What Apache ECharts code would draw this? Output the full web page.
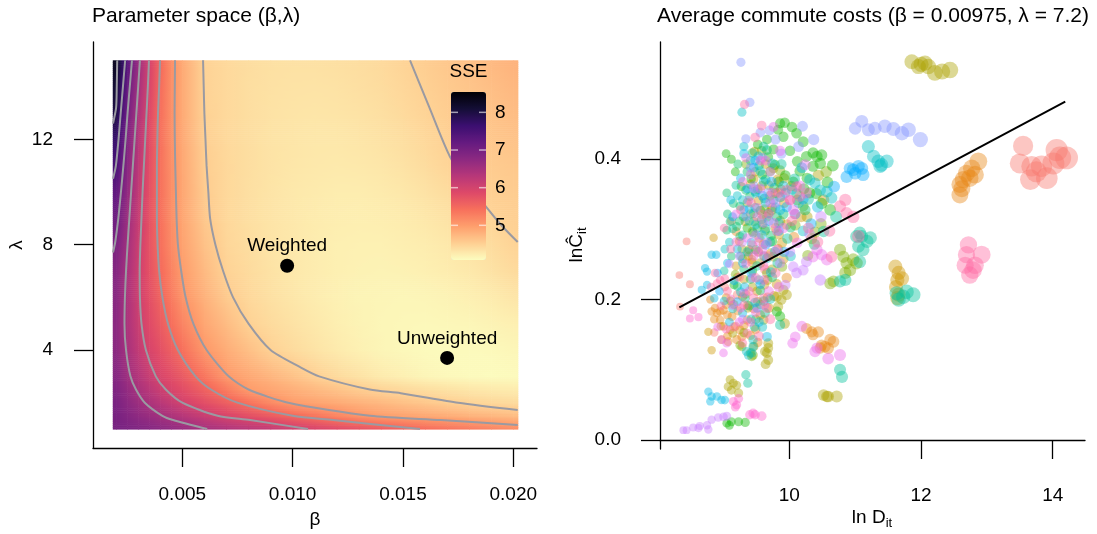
<!DOCTYPE html>
<html><head><meta charset="utf-8">
<script src="https://cdn.jsdelivr.net/npm/echarts@6/dist/echarts.min.js"></script>
<style>html,body{margin:0;padding:0;background:#fff}#c{width:1097px;height:534px}</style>
</head><body><div id="c"></div>
<script>
// ---------- Left panel: SSE surface ----------
const betaGrid = [0.002,0.0025,0.003,0.0035,0.004,0.0045,0.005,0.006,0.007,0.008,0.009,0.010,0.011,0.012,0.013,0.014,0.015,0.016,0.017,0.018,0.019,0.020];
const lambdaGrid = [1,1.5,2,2.5,3,4,5,6,7,8,9,10,11,12,13,14,15];
const sseL1  = [7.0,6.95,6.9,6.85,6.78,6.72,6.64,6.52,6.4,6.3,6.19,6.08,5.97,5.87,5.77,5.67,5.58,5.48,5.4,5.32,5.24,5.16];
const sseL15 = [6.98,6.85,6.72,6.62,6.52,6.42,6.32,6.12,5.94,5.79,5.65,5.5,5.36,5.21,5.07,4.98,4.93,4.88,4.84,4.79,4.75,4.7];
const sseL2  = [6.96,6.76,6.59,6.44,6.29,6.15,6.0,5.8,5.6,5.39,5.17,4.99,4.92,4.86,4.79,4.73,4.66,4.6,4.53,4.48,4.44,4.41];
const sseL25 = [6.9,6.68,6.46,6.28,6.09,5.94,5.82,5.57,5.29,5.0,4.91,4.82,4.73,4.64,4.55,4.48,4.43,4.38,4.34,4.3,4.27,4.25];
const sseL3  = [6.83,6.57,6.35,6.13,5.94,5.81,5.67,5.37,5.03,4.89,4.77,4.65,4.52,4.42,4.34,4.26,4.21,4.16,4.13,4.11,4.1,4.11];
const sseL4  = [6.77,6.47,6.19,5.95,5.78,5.6,5.42,5.04,4.84,4.67,4.5,4.41,4.33,4.26,4.2,4.16,4.13,4.11,4.1,4.11,4.12,4.15];
const sseL5  = [6.77,6.42,6.1,5.85,5.65,5.43,5.22,4.9,4.7,4.5,4.41,4.34,4.28,4.22,4.18,4.15,4.14,4.13,4.14,4.15,4.18,4.21];
const sseL6  = [6.8,6.43,6.06,5.79,5.55,5.31,5.07,4.8,4.57,4.44,4.36,4.3,4.24,4.2,4.17,4.16,4.15,4.16,4.18,4.21,4.25,4.31];
const sseL7  = [6.84,6.46,6.06,5.76,5.48,5.23,4.99,4.72,4.49,4.41,4.34,4.28,4.24,4.21,4.19,4.18,4.19,4.21,4.24,4.28,4.34,4.41];
const sseL8  = [6.94,6.52,6.09,5.74,5.43,5.16,4.94,4.65,4.46,4.39,4.32,4.28,4.24,4.21,4.2,4.2,4.22,4.24,4.28,4.34,4.4,4.48];
const sseL9  = [7.1,6.6,6.14,5.75,5.42,5.13,4.91,4.59,4.44,4.37,4.32,4.28,4.25,4.23,4.22,4.23,4.25,4.29,4.34,4.4,4.48,4.52];
const sseL10 = [7.24,6.7,6.19,5.77,5.41,5.12,4.9,4.56,4.44,4.37,4.32,4.28,4.26,4.24,4.24,4.26,4.29,4.34,4.4,4.47,4.52,4.55];
const sseL11 = [7.5,6.8,6.26,5.8,5.41,5.11,4.89,4.54,4.44,4.38,4.33,4.3,4.28,4.27,4.28,4.3,4.34,4.4,4.47,4.52,4.56,4.59];
const sseL12 = [7.69,6.91,6.33,5.84,5.42,5.1,4.88,4.52,4.43,4.38,4.33,4.31,4.29,4.29,4.31,4.34,4.38,4.44,4.51,4.55,4.6,4.64];
const sseL13 = [8.0,7.03,6.41,5.88,5.43,5.1,4.87,4.5,4.43,4.38,4.34,4.32,4.31,4.32,4.34,4.37,4.42,4.48,4.54,4.59,4.64,4.69];
const sseL14 = [8.1,7.19,6.5,5.94,5.46,5.11,4.87,4.49,4.43,4.38,4.35,4.335,4.33,4.34,4.37,4.4,4.45,4.51,4.57,4.62,4.68,4.74];
const sseL15b= [8.3,7.35,6.61,5.99,5.49,5.13,4.87,4.49,4.43,4.39,4.36,4.35,4.355,4.37,4.39,4.42,4.48,4.54,4.6,4.66,4.73,4.79];
const sseRows = [sseL1,sseL15,sseL2,sseL25,sseL3,sseL4,sseL5,sseL6,sseL7,sseL8,sseL9,sseL10,sseL11,sseL12,sseL13,sseL14,sseL15b];
const sseRange = [4.08, 8.54];
const sseTicks = [5,6,7,8];

// contour lines (beta, lambda)
const contour80 = [[0.00205,15],[0.00203,14],[0.00200,13.2],[0.00186,12.6]];
const contour75 = [[0.00241,15],[0.00231,14],[0.00221,13],[0.00211,12],[0.00199,11],[0.00186,10.5]];
const contour70 = [[0.00272,15],[0.00262,14],[0.00252,13],[0.00243,12],[0.00233,11],[0.00222,10],[0.0021,9],[0.00196,8.1],[0.00186,7.7]];
const contour65 = [[0.00308,15],[0.003,14],[0.00292,13],[0.00284,12],[0.00276,11],[0.00268,10],[0.0026,9],[0.00252,8],[0.00245,7],[0.0024,6],[0.00238,5],[0.00245,4],[0.00265,3],[0.0029,2.5],[0.0033,2],[0.0041,1.5],[0.00458,1.34],[0.00613,1.0]];
const contour60 = [[0.00349,15],[0.00344,14],[0.00338,13],[0.00332,12],[0.00326,11],[0.0032,10],[0.00315,9],[0.0031,8],[0.00307,7],[0.00308,6],[0.00315,5],[0.00335,4],[0.0038,3],[0.00425,2.5],[0.005,2],[0.0066,1.5],[0.00807,1.34],[0.0107,1.0]];
const contour55 = [[0.00399,15],[0.00395,14],[0.0039,13],[0.00387,12],[0.00385,11],[0.00385,10],[0.00385,9],[0.00388,8],[0.00395,7],[0.0041,6],[0.00435,5],[0.0048,4],[0.0056,3],[0.0063,2.5],[0.0075,2],[0.01,1.5],[0.01183,1.34],[0.01577,1.0]];
const contour50 = [[0.00467,15],[0.00466,14],[0.00465,13],[0.00466,12],[0.00468,11],[0.00471,10],[0.00474,9],[0.0048,8],[0.00495,7],[0.00515,6],[0.0055,5],[0.0061,4],[0.0071,3],[0.008,2.5],[0.0098,2],[0.0135,1.5],[0.0167,1.34],[0.0202,1.15]];
const contour45 = [[0.00594,15],[0.00597,14],[0.006,13],[0.00605,12],[0.0061,11],[0.00618,10],[0.00626,9],[0.0065,8],[0.00685,7],[0.0073,6],[0.008,5],[0.009,4],[0.01034,3.35],[0.0112,3.0],[0.0135,2.5],[0.0149,2.36],[0.0175,2.0],[0.0202,1.72]];
const contour45b = [[0.01532,15],[0.0162,13.2],[0.01713,11.34],[0.018,10.3],[0.01876,9.44],[0.0195,8.7],[0.0202,8.1]];

const estNames = ['Weighted','Unweighted'];
const estBeta = [0.00975, 0.017];
const estLambda = [7.2, 3.7];
const betaTicks = [0.005,0.010,0.015,0.020];
const lambdaTicks = [4,8,12];

// ---------- Right panel: commute costs ----------
const lnDTicks = [10,12,14];
const lnCTicks = [0.0,0.2,0.4];
const fitX = [8.33, 14.19];
const fitY = [0.189, 0.482];

const cityRed = [[13.55,0.419],[13.50,0.394],[13.68,0.390],[13.66,0.371],[13.83,0.390],[13.91,0.373],[14.06,0.413],[14.11,0.402],[14.21,0.402],[14.01,0.394],[13.75,0.382],[8.33,0.235],[8.49,0.222],[8.44,0.283],[8.34,0.19],[8.86,0.153],[9.02,0.218],[9.21,0.207],[9.38,0.268],[9.63,0.243],[9.12,0.312]];
const cityOrange = [[12.87,0.397],[12.77,0.387],[12.69,0.380],[12.82,0.378],[12.64,0.371],[12.59,0.364],[12.74,0.373],[12.59,0.349],[12.62,0.358],[8.80,0.200],[8.87,0.188],[8.95,0.183],[9.0,0.185],[8.90,0.181],[8.82,0.183],[9.06,0.178],[9.13,0.176],[8.95,0.171],[9.0,0.162],[9.18,0.162],[9.10,0.157],[9.25,0.157],[9.07,0.140],[9.20,0.143],[9.28,0.147],[8.97,0.143],[9.16,0.193],[9.29,0.204],[9.36,0.171],[9.46,0.187],[9.49,0.158],[9.41,0.149],[10.26,0.159],[10.34,0.154],[10.36,0.150],[10.44,0.154],[10.49,0.135],[10.54,0.133],[10.62,0.143],[10.67,0.140],[10.59,0.131],[10.47,0.131],[8.86,0.172],[9.04,0.193],[9.22,0.184],[9.37,0.192],[9.56,0.178],[9.31,0.163],[9.06,0.148],[9.52,0.139],[9.67,0.203],[9.43,0.253],[9.62,0.262],[9.19,0.297],[9.73,0.327],[9.41,0.364],[9.83,0.272],[10.07,0.289],[9.96,0.231]];
const cityGold = [[11.61,0.247],[11.66,0.238],[11.64,0.228],[11.71,0.230],[11.66,0.207],[11.64,0.202],[11.62,0.218],[8.85,0.288],[8.77,0.154],[8.82,0.128],[9.47,0.411],[9.76,0.387],[9.58,0.362],[9.71,0.348],[9.87,0.357],[9.92,0.338],[9.53,0.341],[9.66,0.318],[9.79,0.302],[9.96,0.307],[9.44,0.297],[9.33,0.311],[9.61,0.279],[9.72,0.266],[9.91,0.258],[9.38,0.262],[9.19,0.248],[9.31,0.229],[9.62,0.221],[9.77,0.205],[9.69,0.188],[9.51,0.212],[9.89,0.281],[9.46,0.372],[9.64,0.393],[9.82,0.371],[10.03,0.362],[9.74,0.331],[9.54,0.288],[9.84,0.293],[9.24,0.283],[9.43,0.257],[9.34,0.208],[9.56,0.193],[9.81,0.222],[9.04,0.203],[8.96,0.162],[10.18,0.318],[10.34,0.287],[10.52,0.342]];
const cityOlive = [[11.86,0.539],[11.96,0.532],[12.06,0.537],[12.11,0.532],[12.21,0.523],[12.32,0.525],[12.44,0.527],[12.0,0.535],[10.52,0.064],[10.57,0.062],[10.59,0.062],[10.72,0.062],[9.10,0.086],[9.15,0.081],[9.07,0.076],[9.20,0.078],[9.12,0.071],[9.23,0.067],[9.68,0.138],[9.68,0.131],[9.66,0.124],[9.63,0.126],[9.68,0.114],[9.64,0.108],[9.91,0.214],[9.96,0.207],[9.88,0.200],[9.81,0.204],[9.83,0.190],[9.93,0.166],[9.74,0.243],[9.56,0.252],[9.67,0.228],[9.44,0.218],[9.52,0.197],[9.41,0.322],[9.62,0.329],[9.79,0.352],[9.48,0.382],[9.69,0.363],[9.92,0.373],[9.36,0.338],[9.59,0.307],[9.86,0.312],[9.28,0.272],[9.53,0.268],[9.76,0.261],[9.21,0.232],[9.37,0.188],[9.61,0.171],[9.14,0.152],[9.46,0.133],[10.12,0.342],[10.27,0.318],[10.44,0.377]];
const cityLime = [[10.77,0.271],[10.82,0.261],[10.87,0.252],[10.92,0.242],[10.85,0.238],[10.97,0.257],[11.02,0.252],[10.67,0.226],[10.62,0.223],[9.28,0.133],[9.25,0.135],[9.43,0.119],[9.45,0.121],[9.41,0.124],[9.52,0.357],[9.71,0.383],[9.63,0.298],[10.48,0.308],[10.39,0.296],[10.21,0.333],[9.89,0.247],[9.29,0.258],[9.11,0.198],[9.34,0.393],[9.58,0.412],[9.86,0.384],[10.09,0.306],[9.46,0.311],[9.66,0.238],[9.39,0.271],[9.18,0.236],[9.49,0.172],[9.31,0.153],[10.28,0.263],[10.56,0.382]];
const cityGreen = [[9.86,0.451],[9.93,0.452],[10.04,0.446],[10.11,0.437],[9.83,0.442],[9.91,0.432],[10.21,0.425],[10.26,0.404],[10.36,0.409],[10.42,0.404],[10.49,0.406],[10.47,0.394],[10.36,0.390],[10.49,0.337],[10.62,0.328],[9.04,0.408],[9.12,0.400],[9.81,0.183],[9.86,0.176],[9.05,0.024],[9.12,0.026],[9.23,0.026],[9.33,0.025],[9.09,0.021],[10.16,0.383],[10.06,0.368],[9.94,0.377],[10.22,0.358],[10.31,0.352],[9.78,0.392],[9.68,0.403],[9.59,0.378],[9.42,0.372],[9.27,0.361],[9.52,0.421],[9.66,0.428],[9.76,0.414],[10.01,0.412],[10.12,0.397],[9.84,0.368],[10.27,0.373],[9.56,0.327],[9.36,0.302],[9.18,0.382],[9.74,0.283],[10.41,0.351],[9.16,0.221],[9.44,0.241],[10.58,0.367],[10.66,0.391]];
const cityJade = [[9.05,0.352],[9.15,0.337],[9.25,0.333],[9.40,0.347],[9.48,0.354],[9.30,0.318],[9.20,0.304],[9.10,0.311],[9.05,0.299],[9.25,0.290],[9.45,0.295],[9.58,0.314],[9.68,0.323],[9.36,0.382],[9.54,0.391],[9.77,0.359],[9.91,0.322],[10.02,0.303],[9.49,0.271],[9.31,0.243],[9.12,0.262],[9.61,0.198],[9.39,0.191],[9.21,0.219],[9.66,0.413],[9.22,0.393],[9.44,0.409],[9.64,0.371],[9.86,0.346],[10.11,0.351],[9.34,0.356],[9.62,0.344],[9.81,0.318],[9.24,0.312],[9.51,0.302],[9.72,0.291],[9.06,0.322],[9.41,0.229],[9.56,0.213],[9.74,0.232],[10.24,0.328],[10.38,0.279]];
const cityTeal = [[11.63,0.209],[11.78,0.211],[11.88,0.207],[11.73,0.204],[11.66,0.200],[11.02,0.290],[11.07,0.295],[11.18,0.283],[11.05,0.276],[11.10,0.290],[11.23,0.288],[11.12,0.271],[11.07,0.254],[10.85,0.228],[10.77,0.226],[10.77,0.100],[10.80,0.090],[9.34,0.093],[9.37,0.081],[9.86,0.164],[9.71,0.282],[9.48,0.331],[9.29,0.292],[9.82,0.252],[9.01,0.241],[9.14,0.301],[9.19,0.363],[9.41,0.398],[9.61,0.418],[9.88,0.393],[10.08,0.372],[9.76,0.342],[9.46,0.323],[9.64,0.301],[9.97,0.287],[9.26,0.262],[9.51,0.248],[9.33,0.202],[9.63,0.181],[9.47,0.161],[10.29,0.343],[10.52,0.297],[10.71,0.318]];
const cityCyan = [[11.20,0.418],[11.28,0.404],[11.35,0.397],[11.40,0.392],[11.48,0.397],[11.38,0.390],[9.28,0.467],[9.53,0.404],[10.31,0.371],[10.39,0.366],[10.47,0.356],[10.57,0.354],[10.64,0.345],[9.45,0.133],[9.35,0.126],[9.43,0.124],[9.38,0.121],[9.45,0.143],[9.21,0.348],[9.39,0.312],[9.61,0.368],[9.79,0.331],[9.02,0.272],[9.26,0.211],[9.54,0.228],[9.71,0.201],[9.31,0.418],[9.56,0.383],[9.74,0.394],[9.94,0.352],[10.14,0.338],[9.29,0.342],[9.49,0.307],[9.84,0.309],[9.09,0.282],[9.36,0.268],[9.66,0.259],[9.14,0.187],[9.42,0.172],[9.59,0.161],[10.02,0.262],[10.21,0.298]];
const citySky = [[8.77,0.069],[8.82,0.062],[8.90,0.062],[8.80,0.055],[8.97,0.057],[9.02,0.057],[8.67,0.214],[8.75,0.221],[8.72,0.245],[8.75,0.240],[8.82,0.264],[8.89,0.264],[9.11,0.342],[9.31,0.408],[9.49,0.352],[9.69,0.312],[9.91,0.362],[10.09,0.322],[9.21,0.272],[9.42,0.281],[9.01,0.198],[9.29,0.181],[9.54,0.168],[9.66,0.147],[9.26,0.373],[9.46,0.388],[9.64,0.338],[9.86,0.328],[10.04,0.357],[9.39,0.329],[9.58,0.292],[9.78,0.268],[9.06,0.252],[9.32,0.218],[9.48,0.196],[9.72,0.239],[8.86,0.202],[9.09,0.168],[10.19,0.388],[10.43,0.332]];
const cityBlue = [[10.87,0.375],[10.97,0.385],[11.05,0.39],[11.10,0.387],[11.0,0.380],[10.92,0.387],[11.12,0.378],[9.31,0.328],[9.59,0.348],[9.84,0.298],[9.42,0.238],[9.16,0.227],[8.94,0.212],[9.51,0.188],[10.21,0.343],[9.48,0.398],[9.73,0.368],[9.96,0.332],[9.36,0.358],[9.14,0.318],[9.64,0.278],[9.92,0.268],[9.29,0.252],[9.56,0.222],[9.21,0.197],[8.91,0.238],[10.33,0.308],[10.68,0.361]];
const cityPeri = [[11.10,0.454],[11.20,0.442],[11.30,0.444],[11.45,0.447],[11.58,0.443],[11.71,0.437],[11.81,0.442],[11.99,0.428],[11.0,0.444],[9.265,0.538],[9.40,0.481],[9.34,0.429],[9.70,0.441],[10.20,0.447],[9.59,0.402],[9.88,0.408],[9.41,0.388],[9.56,0.438],[9.79,0.428],[9.46,0.362],[9.68,0.352],[9.34,0.318],[9.61,0.262],[10.14,0.418],[10.37,0.428]];
const cityPurple = [[8.39,0.014],[8.44,0.014],[8.54,0.018],[8.64,0.020],[8.75,0.021],[8.82,0.029],[8.92,0.032],[9.00,0.033],[9.05,0.034],[8.62,0.017],[8.77,0.015],[10.47,0.228],[10.06,0.247],[10.11,0.238],[10.21,0.242],[10.26,0.254],[9.79,0.338],[9.61,0.309],[9.49,0.292],[9.28,0.281],[10.01,0.268],[9.94,0.221],[9.09,0.251],[9.46,0.358],[9.71,0.382],[9.89,0.348],[9.38,0.341],[9.66,0.281],[9.86,0.252],[9.24,0.262],[9.44,0.231],[9.29,0.172],[9.62,0.192],[10.31,0.293],[10.48,0.318]];
const cityMagenta = [[10.19,0.162],[10.09,0.147],[10.05,0.138],[10.39,0.126],[10.59,0.116],[10.77,0.121],[10.42,0.131],[10.36,0.261],[10.42,0.271],[10.49,0.264],[10.57,0.257],[9.76,0.446],[8.97,0.143],[9.05,0.138],[9.0,0.124],[9.71,0.338],[9.91,0.302],[9.19,0.322],[9.46,0.262],[9.59,0.271],[9.56,0.358],[9.34,0.402],[10.01,0.342],[10.06,0.328],[9.84,0.218],[9.24,0.168],[9.41,0.378],[9.64,0.398],[9.86,0.412],[10.16,0.362],[9.51,0.331],[9.76,0.309],[9.36,0.288],[9.54,0.282],[9.81,0.271],[10.12,0.281],[9.31,0.209],[9.49,0.182],[9.14,0.192],[9.69,0.212],[8.91,0.161],[10.24,0.392]];
const cityHotPink = [[9.15,0.055],[9.18,0.047],[9.23,0.059],[9.20,0.050],[9.40,0.036],[9.45,0.038],[9.48,0.036],[9.58,0.034],[8.54,0.185],[8.49,0.173],[8.62,0.175],[9.11,0.201],[9.39,0.212],[9.61,0.248],[9.19,0.282],[9.51,0.318],[9.74,0.352],[9.29,0.368],[9.56,0.398],[9.69,0.322],[9.34,0.251],[9.52,0.268],[9.26,0.188],[9.41,0.168],[9.04,0.158],[9.62,0.228],[9.81,0.298],[10.08,0.322],[10.26,0.352]];
const cityPink = [[12.72,0.278],[12.69,0.264],[12.92,0.264],[12.67,0.249],[12.82,0.249],[12.74,0.235],[12.79,0.242],[9.32,0.478],[9.58,0.448],[9.48,0.431],[10.77,0.333],[10.85,0.342],[10.87,0.323],[10.97,0.318],[11.05,0.290],[8.87,0.238],[8.95,0.228],[9.02,0.230],[8.90,0.223],[10.64,0.261],[9.96,0.356],[10.11,0.361],[10.16,0.347],[10.01,0.342],[9.31,0.192],[9.49,0.231],[9.71,0.172],[9.16,0.161],[9.36,0.152],[8.96,0.191],[9.61,0.202],[9.79,0.238],[9.01,0.302],[10.29,0.302],[9.42,0.338],[9.59,0.321],[9.84,0.352],[10.04,0.312],[9.26,0.328],[9.44,0.278],[9.69,0.262],[9.11,0.272],[9.24,0.232],[9.46,0.202],[9.66,0.188],[9.06,0.212],[8.81,0.218],[9.54,0.148],[9.29,0.138],[10.43,0.282],[10.61,0.298]];

const cities = [cityRed,cityOrange,cityGold,cityOlive,cityLime,cityGreen,cityJade,cityTeal,cityCyan,citySky,cityBlue,cityPeri,cityPurple,cityMagenta,cityHotPink,cityPink];
const cityColors = ['#F8766D','#E68613','#CD9600','#ABA300','#7CAE00','#0CB702','#00BE67','#00C19A','#00BFC4','#00B8E7','#00A9FF','#8494FF','#C77CFF','#ED68ED','#FF61CC','#FF68A1'];

// ---------- build ----------
const FONT = '"Liberation Sans", Arial, Helvetica, sans-serif';
const magmaLowHigh = ['#FCFDBF','#FECF92','#FE9F6D','#F7705C','#DE4968','#B73779','#8C2981','#641A80','#3B0F70','#140E36','#000004'];
const magmaRGB = magmaLowHigh.map(h=>[parseInt(h.slice(1,3),16),parseInt(h.slice(3,5),16),parseInt(h.slice(5,7),16)]);
function sseColor(v){
  let t=(v-sseRange[0])/(sseRange[1]-sseRange[0]); t=Math.max(0,Math.min(1,t));
  const f=t*(magmaRGB.length-1); const k=Math.min(magmaRGB.length-2, Math.floor(f)); const u=f-k;
  const a=magmaRGB[k], b=magmaRGB[k+1];
  return 'rgb('+Math.round(a[0]+(b[0]-a[0])*u)+','+Math.round(a[1]+(b[1]-a[1])*u)+','+Math.round(a[2]+(b[2]-a[2])*u)+')';
}
// image extent (beta 0.00185..0.0202, lambda 1..15); outer half cells repeat the edge values
const xsEdge = [0.00185].concat(betaGrid, [0.0202]);
const rowsExt = sseRows.map(r=>[r[0]].concat(r,[r[r.length-1]]));
const heatData = [];
for(let i=0;i<lambdaGrid.length-1;i++){
  for(let j=0;j<xsEdge.length-1;j++){
    heatData.push([(xsEdge[j]+xsEdge[j+1])/2,(lambdaGrid[i]+lambdaGrid[i+1])/2, rowsExt[i][j], j, i]);
  }
}

const series = [];
series.push({
  type:'custom', coordinateSystem:'cartesian2d', xAxisIndex:0, yAxisIndex:0, silent:true, z:1,
  data: heatData, encode:{x:0,y:1},
  renderItem:(params, api)=>{
    const j=api.value(3), i=api.value(4);
    const pBL=api.coord([xsEdge[j], lambdaGrid[i]]);
    const pTR=api.coord([xsEdge[j+1], lambdaGrid[i+1]]);
    const w=pTR[0]-pBL[0], h=pBL[1]-pTR[1];
    const n=Math.max(1, Math.round(h/2));
    const v00=rowsExt[i][j], v10=rowsExt[i][j+1], v01=rowsExt[i+1][j], v11=rowsExt[i+1][j+1];
    const children=[];
    for(let k=0;k<n;k++){
      const tm=1-(k+0.5)/n;
      const vl=v00*(1-tm)+v01*tm, vr=v10*(1-tm)+v11*tm;
      const stops=[];
      for(let s=0;s<=4;s++){ stops.push({offset:s/4, color:sseColor(vl+(vr-vl)*s/4)}); }
      children.push({type:'rect', shape:{x:pBL[0], y:pTR[1]+k*h/n, width:w+0.6, height:h/n+0.6},
        style:{fill:new echarts.graphic.LinearGradient(0,0,1,0,stops)}});
    }
    return {type:'group', children:children};
  }
});
[contour80,contour75,contour70,contour65,contour60,contour55,contour50,contour45,contour45b].forEach(c=>{
  series.push({type:'line', xAxisIndex:0, yAxisIndex:0, data:c, symbol:'none', smooth:0.25, silent:true, z:3,
    lineStyle:{color:'#9a9aa2', width:2}});
});
series.push({
  type:'scatter', xAxisIndex:0, yAxisIndex:0, z:5, symbolSize:14,
  data: estNames.map((n,i)=>({name:n, value:[estBeta[i], estLambda[i]]})),
  itemStyle:{color:'#000', opacity:1},
  label:{show:true, formatter:'{b}', position:'top', distance:3, fontSize:19, color:'#000', fontFamily:FONT}
});
cities.forEach((pts,k)=>{
  series.push({type:'scatter', xAxisIndex:1, yAxisIndex:1, data:pts, z:2,
    symbolSize:(v)=>7.8*Math.exp(0.185*(v[0]-8.4)),
    itemStyle:{color:cityColors[k], opacity:0.42, borderWidth:0}});
});
series.push({type:'line', xAxisIndex:1, yAxisIndex:1, data:fitX.map((x,i)=>[x,fitY[i]]), symbol:'none', z:4,
  lineStyle:{color:'#000', width:2}});

function axisCommon(ticks, fmt, margin){
  return {
    axisLine:{show:true, lineStyle:{color:'#000', width:1.3}},
    axisTick:{show:true, length:19, customValues:ticks, lineStyle:{color:'#000', width:1.3}},
    axisLabel:{customValues:ticks, formatter:fmt, fontSize:19, color:'#000', fontFamily:FONT, margin:margin},
    splitLine:{show:false}
  };
}

// colorbar geometry
const cbLeft=451, cbTop=92, cbW=35, cbH=168;
const cbY = v => cbTop + (sseRange[1]-v)/(sseRange[1]-sseRange[0])*cbH;
const graphics = [];
sseTicks.forEach(v=>{
  const y=cbY(v);
  graphics.push({type:'line', z:100, shape:{x1:cbLeft, y1:y, x2:cbLeft+7, y2:y}, style:{stroke:'rgba(255,255,255,0.6)', lineWidth:1.5}});
  graphics.push({type:'line', z:100, shape:{x1:cbLeft+cbW-7, y1:y, x2:cbLeft+cbW, y2:y}, style:{stroke:'rgba(255,255,255,0.6)', lineWidth:1.5}});
  graphics.push({type:'text', z:100, x:cbLeft+cbW+9, y:y, style:{text:String(v), font:'19px '+FONT, fill:'#000', verticalAlign:'middle', align:'left'}});
});
graphics.push({type:'text', z:100, x:cbLeft+cbW/2, y:72, style:{text:'SSE', font:'19px '+FONT, fill:'#000', verticalAlign:'middle', align:'center'}});
graphics.push({type:'text', x:92, y:16, style:{text:'Parameter space (β,λ)', font:'21px '+FONT, fill:'#000', verticalAlign:'middle', align:'left'}});
graphics.push({type:'text', x:657, y:16, style:{text:'Average commute costs (β = 0.00975, λ = 7.2)', font:'21px '+FONT, fill:'#000', verticalAlign:'middle', align:'left'}});
graphics.push({type:'text', x:315, y:520, style:{text:'β', font:'19px '+FONT, fill:'#000', verticalAlign:'middle', align:'center'}});
graphics.push({type:'text', x:17, y:245, rotation:Math.PI/2, style:{text:'λ', font:'19px '+FONT, fill:'#000', verticalAlign:'middle', align:'center'}});
graphics.push({type:'text', x:872, y:518, style:{text:'{m|ln D}{s|it}', fill:'#000', verticalAlign:'middle', align:'center',
  rich:{m:{fontSize:19, fontFamily:FONT, fill:'#000'}, s:{fontSize:13, fontFamily:FONT, fill:'#000', padding:[10,0,0,0]}}}});
graphics.push({type:'text', x:577, y:245, rotation:Math.PI/2, style:{text:'{m|lnĈ}{s|it}', fill:'#000', verticalAlign:'middle', align:'center',
  rich:{m:{fontSize:19, fontFamily:FONT, fill:'#000'}, s:{fontSize:13, fontFamily:FONT, fill:'#000', padding:[10,0,0,0]}}}});

const option = {
  animation:false,
  backgroundColor:'#fff',
  grid:[
    {left:93, top:42, width:444, height:406},
    {left:660, top:42, width:425, height:407}
  ],
  xAxis:[
    Object.assign({type:'value', gridIndex:0, min:0.000953, max:0.021074}, axisCommon(betaTicks, v=>v.toFixed(3), 37)),
    Object.assign({type:'value', gridIndex:1, min:8.036, max:14.49}, axisCommon(lnDTicks, v=>String(v), 37))
  ],
  yAxis:[
    Object.assign({type:'value', gridIndex:0, min:0.279, max:15.694}, axisCommon(lambdaTicks, v=>String(v), 40)),
    Object.assign({type:'value', gridIndex:1, min:-0.0128, max:0.567}, axisCommon(lnCTicks, v=>v.toFixed(1), 39))
  ],
  visualMap:{
    type:'continuous', seriesIndex:0, dimension:2, min:sseRange[0], max:sseRange[1],
    inRange:{color:magmaLowHigh}, calculable:false, show:true, left:cbLeft, top:cbTop,
    itemWidth:cbW, itemHeight:cbH, padding:0, text:null, showLabel:false, z:50
  },
  graphic: graphics,
  series: series
};
const chart = echarts.init(document.getElementById('c'), null, {renderer:'canvas'});
chart.setOption(option);
</script>
</body></html>
